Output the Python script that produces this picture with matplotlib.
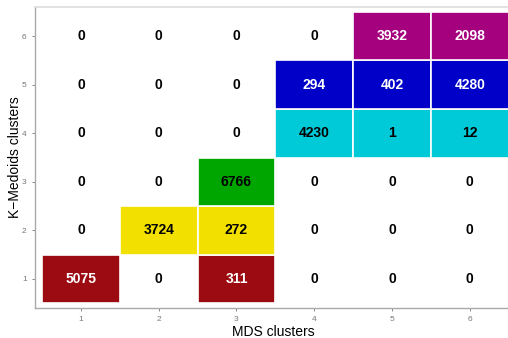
#!/usr/bin/env python3

import numpy as np
import matplotlib
matplotlib.use("Agg")
import matplotlib.pyplot as plt
from matplotlib.patches import Rectangle

plt.rcParams['font.family'] = ['Liberation Sans', 'DejaVu Sans']

mds_clusters = [1, 2, 3, 4, 5, 6]
kmedoids_clusters = [1, 2, 3, 4, 5, 6]

# counts[row k-medoids cluster][column mds cluster]
counts = [
    [5075, 0, 311, 0, 0, 0],
    [0, 3724, 272, 0, 0, 0],
    [0, 0, 6766, 0, 0, 0],
    [0, 0, 0, 4230, 1, 12],
    [0, 0, 0, 294, 402, 4280],
    [0, 0, 0, 0, 3932, 2098],
]

row_colors = ['#9c0b11', '#f2e000', '#00a600', '#00c9d8', '#0000c8', '#a5007e']
text_colors = ['white', 'black', 'black', 'black', 'white', 'white']


def plot_confusion(counts, file_name):
    fig = plt.figure(figsize=(5.08, 3.38), dpi=100)
    ax = fig.add_axes([0.069, 0.089, 0.94, 0.89])

    for i, k in enumerate(kmedoids_clusters):
        for j, m in enumerate(mds_clusters):
            v = counts[i][j]
            if v > 0:
                ax.add_patch(Rectangle((m - 0.5, k - 0.5), 1, 1,
                                       facecolor=row_colors[i],
                                       edgecolor='white', linewidth=1.2))
                tc = text_colors[i]
            else:
                tc = 'black'
            ax.text(m, k, str(v), ha='center', va='center',
                    fontsize=10, fontweight='bold', color=tc)

    ax.set_xlim(0.41, 6.55)
    ax.set_ylim(0.4, 6.6)
    ax.set_xticks(mds_clusters)
    ax.set_yticks(kmedoids_clusters)
    ax.tick_params(labelsize=6, colors='#777777', length=2, width=0.6)
    ax.tick_params(axis='y', pad=4)
    ax.set_xlabel('MDS clusters', fontsize=10, labelpad=2)
    ax.set_ylabel('K\u2212Medoids clusters', fontsize=10, labelpad=0)

    for side in ['left', 'bottom']:
        ax.spines[side].set_color('#aaaaaa')
        ax.spines[side].set_linewidth(1.0)
    ax.spines['top'].set_color('#dddddd')
    ax.spines['top'].set_linewidth(1.2)
    ax.spines['right'].set_visible(False)

    fig.savefig(file_name, dpi=100)


plot_confusion(counts, 'out.png')
